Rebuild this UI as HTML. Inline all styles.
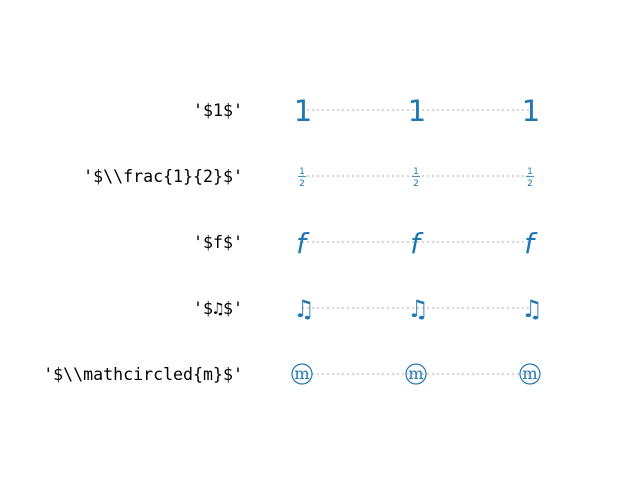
<!DOCTYPE html>
<html><head><meta charset="utf-8"><style>
html,body{margin:0;padding:0;background:#fff;width:640px;height:480px;overflow:hidden}
</style></head><body>
<svg width="640" height="480" xmlns="http://www.w3.org/2000/svg">
<g font-family="DejaVu Sans Mono, Liberation Mono, monospace" font-size="16.6" fill="#000" text-anchor="end">
<text x="243" y="116">'$1$'</text>
<text x="243" y="182">'$\\frac{1}{2}$'</text>
<text x="243" y="248">'$f$'</text>
<text x="243" y="314">'$♫$'</text>
<text x="243" y="380">'$\\mathcircled{m}$'</text>
</g>
<g stroke="#c8c8c8" stroke-width="1.5" stroke-dasharray="2,3">
<line x1="302" y1="110" x2="530" y2="110"/>
<line x1="302" y1="176" x2="530" y2="176"/>
<line x1="302" y1="242" x2="530" y2="242"/>
<line x1="302" y1="308" x2="530" y2="308"/>
<line x1="302" y1="374" x2="530" y2="374"/>
</g>
<g fill="#1f77b4" font-family="DejaVu Sans, sans-serif" text-anchor="middle">
<g font-size="29">
<text x="303" y="121">1</text><text x="417" y="121">1</text><text x="531" y="121">1</text>
</g>
<g font-size="9">
<text x="302" y="174">1</text><text x="416" y="174">1</text><text x="530" y="174">1</text>
<text x="302" y="186">2</text><text x="416" y="186">2</text><text x="530" y="186">2</text>
</g>
<g font-size="28" font-style="oblique">
<text x="301" y="253">f</text><text x="415" y="253">f</text><text x="529" y="253">f</text>
</g>
<g font-size="24">
<text x="304" y="317">♫</text><text x="418" y="317">♫</text><text x="532" y="317">♫</text>
</g>
<g font-size="16" font-family="DejaVu Serif, serif">
<text x="302" y="379">m</text><text x="416" y="379">m</text><text x="530" y="379">m</text>
</g>
</g>
<g fill="none" stroke="#1f77b4" stroke-width="1.2">
<circle cx="302" cy="374" r="10"/><circle cx="416" cy="374" r="10"/><circle cx="530" cy="374" r="10"/>
</g>
<g stroke="#1f77b4" stroke-width="0.8">
<line x1="298" y1="176.5" x2="306" y2="176.5"/><line x1="412" y1="176.5" x2="420" y2="176.5"/><line x1="526" y1="176.5" x2="534" y2="176.5"/>
</g>
</svg>
</body></html>
